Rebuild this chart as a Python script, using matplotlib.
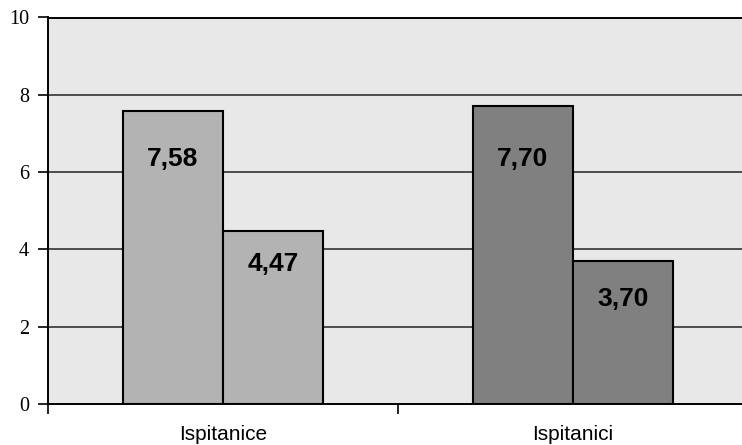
import matplotlib
matplotlib.use("Agg")
import matplotlib.pyplot as plt

# Data
categories = ["Ispitanice", "Ispitanici"]
series_a = [7.58, 7.70]
series_b = [4.47, 3.70]
bar_colors = ["#b3b3b3", "#808080"]
y_ticks = [0, 2, 4, 6, 8, 10]

W, H, DPI = 742, 445, 100
fig = plt.figure(figsize=(W / DPI, H / DPI), dpi=DPI)
fig.patch.set_facecolor("white")

# axes in pixel units (right edge runs slightly past the figure)
left, right, top, bottom = 48, 748, 17.5, 404
ax = fig.add_axes([left / W, (H - bottom) / H, (right - left) / W, (bottom - top) / H])
ax.set_facecolor("#e8e8e8")

bw = 100 / 350.0
xs = list(range(len(categories)))
for i, x in enumerate(xs):
    ax.bar(x - bw / 2, series_a[i], width=bw, color=bar_colors[i],
           edgecolor="black", linewidth=1.5, zorder=3)
    ax.bar(x + bw / 2, series_b[i], width=bw, color=bar_colors[i],
           edgecolor="black", linewidth=1.5, zorder=3)

# value labels inside the bars (offset below the bar top, in pixels)
offs_a = [48, 53]
offs_b = [33, 38]
px = 72.0 / DPI
for i, x in enumerate(xs):
    for xx, v, o in ((x - bw / 2, series_a[i], offs_a[i]), (x + bw / 2, series_b[i], offs_b[i])):
        ax.annotate(f"{v:.2f}".replace(".", ","), xy=(xx, v), xytext=(0, -o * px),
                    textcoords="offset points", ha="center", va="center",
                    fontsize=19, fontweight="bold", family="Liberation Sans", zorder=5)

ax.set_xlim(-0.5, len(categories) - 0.5)
ax.set_ylim(0, 10)

# grid
for yv in y_ticks[1:-1]:
    ax.axhline(yv, color="#404040", linewidth=1.3, zorder=1)

ax.set_yticks(y_ticks)
ax.set_yticklabels([str(t) for t in y_ticks], family="Liberation Serif", fontsize=14.5)
ax.tick_params(axis="y", length=7.2, width=1.2, color="black", pad=6.5)

ax.set_xticks(xs)
ax.set_xticklabels(categories, family="Liberation Sans", fontsize=15)
ax.tick_params(axis="x", which="major", length=0, pad=15)
ax.set_xticks([-0.5 + k for k in range(len(categories) + 1)], minor=True)
ax.tick_params(axis="x", which="minor", length=7.2, width=1.2, color="black")

for s in ("left", "bottom", "top"):
    ax.spines[s].set_color("black")
    ax.spines[s].set_linewidth(1.4)
ax.spines["right"].set_visible(False)

fig.savefig("out.png", dpi=DPI, facecolor="white")
